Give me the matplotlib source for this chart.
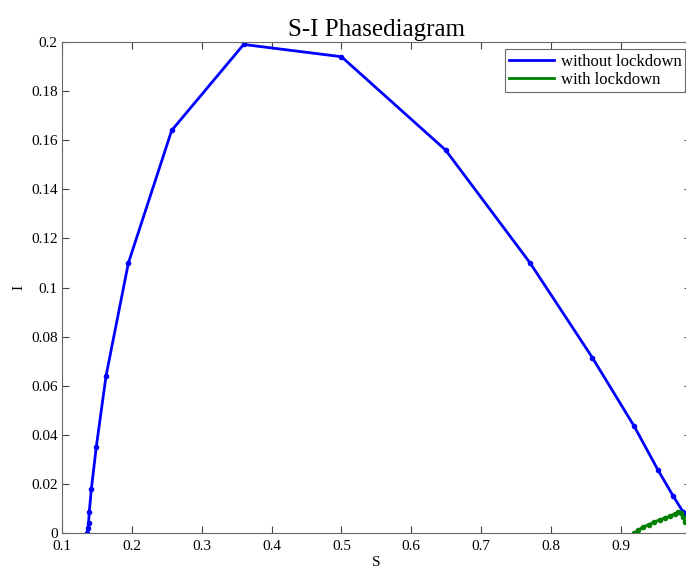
import matplotlib
matplotlib.use('Agg')
import matplotlib.pyplot as plt
from matplotlib.lines import Line2D

plt.rcParams['font.family'] = ['Liberation Serif', 'DejaVu Serif']

# S-I trajectory without lockdown
s_without = [0.136, 0.137, 0.138, 0.139, 0.142, 0.149, 0.163, 0.195, 0.257, 0.360,
             0.500, 0.649, 0.770, 0.859, 0.919, 0.953, 0.975, 0.989, 0.998]
i_without = [0.0, 0.002, 0.004, 0.0086, 0.018, 0.035, 0.064, 0.110, 0.164, 0.199,
             0.194, 0.156, 0.110, 0.0715, 0.0435, 0.0257, 0.015, 0.0086, 0.005]

# S-I trajectory with lockdown
s_with = [0.919, 0.925, 0.932, 0.940, 0.948, 0.956, 0.963, 0.970, 0.977, 0.982,
          0.986, 0.989, 0.992]
i_with = [0.0, 0.0012, 0.0025, 0.0035, 0.0045, 0.0055, 0.0061, 0.0070, 0.0078,
          0.0085, 0.0082, 0.0065, 0.0045]

x_ticks = [0.1, 0.2, 0.3, 0.4, 0.5, 0.6, 0.7, 0.8, 0.9, 1.0]
x_labels = ['0.1', '0.2', '0.3', '0.4', '0.5', '0.6', '0.7', '0.8', '0.9', '']
y_ticks = [0, 0.02, 0.04, 0.06, 0.08, 0.1, 0.12, 0.14, 0.16, 0.18, 0.2]
y_labels = ['0', '0.02', '0.04', '0.06', '0.08', '0.1', '0.12', '0.14', '0.16', '0.18', '0.2']

fig = plt.figure(figsize=(6.86, 5.72), dpi=100)
ax = fig.add_axes([0.0904, 0.068, 0.9166, 0.8586])

ax.plot(s_without, i_without, color='#0000ff', linewidth=2, marker='.',
        markersize=6)
ax.plot(s_with, i_with, color='#008000', linewidth=2, marker='.',
        markersize=6)

ax.set_xlim(0.1, 1.0)
ax.set_ylim(0, 0.2)
ax.set_xticks(x_ticks)
ax.set_xticklabels(x_labels)
ax.set_yticks(y_ticks)
ax.set_yticklabels(y_labels)
ax.tick_params(direction='in', top=True, right=True, labelsize=11,
               length=5, color='#444444')
ax.tick_params(axis='x', pad=5)
ax.tick_params(axis='y', pad=3)
for sp in ax.spines.values():
    sp.set_color('#666666')

ax.set_xlabel('S', fontsize=11, labelpad=2)
ax.set_ylabel('I', fontsize=11, labelpad=4)
ax.set_title('S-I Phasediagram', fontsize=18, pad=4)

handles = [Line2D([], [], color='#0000ff', linewidth=2),
           Line2D([], [], color='#008000', linewidth=2)]
leg = ax.legend(handles, ['without lockdown', 'with lockdown'],
                loc='upper right', fontsize=12, fancybox=False,
                edgecolor='#444444', handlelength=2.7, borderpad=0.25,
                labelspacing=0.15, handletextpad=0.4, borderaxespad=0,
                bbox_to_anchor=(0.9915, 0.985))
leg.get_frame().set_linewidth(0.8)

plt.savefig('out.png', dpi=100)
plt.close()
